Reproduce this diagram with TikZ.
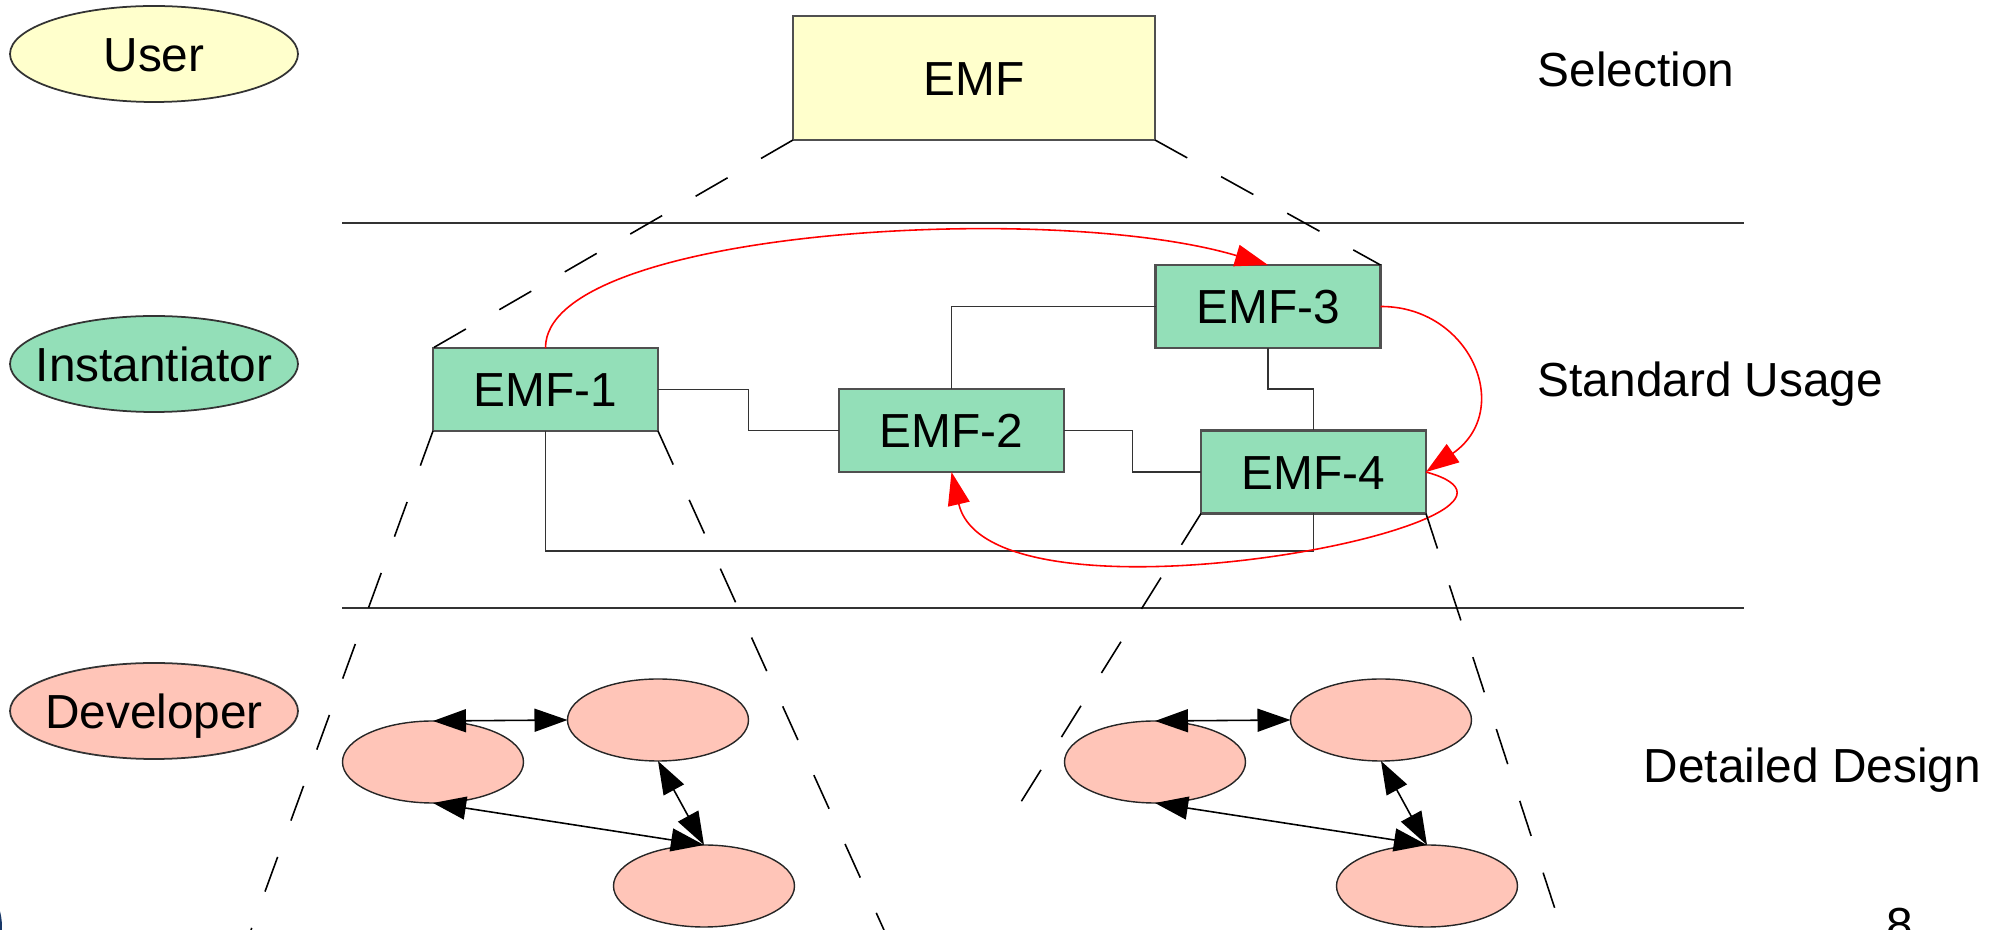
\documentclass[tikz,border=0pt]{standalone}
\usepackage{fontspec}
\setmainfont{Liberation Sans}
\usetikzlibrary{shapes.geometric, arrows.meta, calc}

\definecolor{emfyellow}{RGB}{255,255,204}
\definecolor{emfgreen}{RGB}{147,223,184}
\definecolor{emfpink}{RGB}{255,197,184}
\definecolor{framegray}{RGB}{80,80,80}
\definecolor{logoblue}{RGB}{24,56,104}

\tikzset{
    txt/.style={font=\fontsize{13.6}{16}\selectfont},
    roletext/.style={txt, inner sep=0pt, text height=9.8pt, text depth=0pt},
    role/.style={ellipse, draw=black!80, line width=0.5pt,
        minimum width=2.88cm, minimum height=0.96cm, inner sep=0pt, outer sep=0pt},
    emfbox/.style={txt, rectangle, draw=framegray, line width=0.6pt, fill=emfgreen,
        minimum width=2.25cm, minimum height=0.83cm, inner sep=0pt, outer sep=0pt,
        text height=9.8pt, text depth=0pt},
    part/.style={ellipse, draw=black!85, line width=0.4pt, fill=emfpink,
        minimum width=1.81cm, minimum height=0.82cm, inner sep=0pt, outer sep=0pt},
    layertext/.style={txt, anchor=base west, inner sep=0pt},
    divider/.style={draw=black!80, line width=0.5pt},
    wire/.style={draw=black!80, line width=0.45pt},
    proj/.style={draw=black, line width=0.45pt, dash pattern=on 10.5pt off 11pt},
    flow/.style={red, line width=0.45pt, -{Triangle[length=0.33cm, width=0.22cm]}},
    dep/.style={black, line width=0.45pt,
        {Triangle[length=0.33cm, width=0.23cm]}-{Triangle[length=0.33cm, width=0.23cm]}}
}

\begin{document}
\begin{tikzpicture}
    \clip (0,0) rectangle (19.96,-9.30);

    % Roles on the left
    \node [role, fill=emfyellow, label={[roletext]center:User}] (user) at (1.54,-0.54) {};
    \node [role, fill=emfgreen, label={[roletext]center:Instantiator}] (inst) at (1.54,-3.64) {};
    \node [role, fill=emfpink, label={[roletext]center:Developer}] (dev) at (1.54,-7.11) {};

    % Layer names on the right
    \node [layertext] (sel) at (15.37,-0.87) {Selection};
    \node [layertext] (std) at (15.37,-3.97) {Standard Usage};
    \node [layertext] (det) at (16.43,-7.83) {Detailed Design};
    \node [txt, anchor=base, inner sep=0pt] (page) at (18.995,-9.42) {8};
    \fill [logoblue] (-0.60,-9.27) circle (0.62);

    \draw [divider] (3.42,-2.23) -- (17.44,-2.23);
    \draw [divider] (3.42,-6.08) -- (17.44,-6.08);

    % EMF and its instances
    \node [emfbox, fill=emfyellow, minimum width=3.62cm, minimum height=1.24cm] (emf) at (9.74,-0.78) {EMF};
    \node [emfbox] (emf1) at (5.455,-3.895) {EMF-1};
    \node [emfbox] (emf2) at (9.515,-4.305) {EMF-2};
    \node [emfbox] (emf3) at (12.68,-3.065) {EMF-3};
    \node [emfbox] (emf4) at (13.135,-4.72) {EMF-4};

    \draw [wire] (emf1.east) -| ($(emf1.east)!0.5!(emf2.west)$) |- (emf2.west);
    \draw [wire] (emf2.north) |- (emf3.west);
    \draw [wire] (emf3.south) |- ($(emf3.south)!0.5!(emf4.north)$) -| (emf4.north);
    \draw [wire] (emf2.east) -| ($(emf2.east)!0.5!(emf4.west)$) |- (emf4.west);
    \draw [wire] (emf1.south) -- ++(0,-1.2) -| (emf4.south);

    \draw [flow] (emf1.north) .. controls (5.45,-2.30) and (10.50,-2.00) .. (emf3.north);
    \draw [flow] (emf3.east) .. controls (14.70,-3.06) and (15.15,-4.10) .. (emf4.east);
    \draw [flow] (emf4.east) .. controls (16.00,-5.20) and (9.90,-6.40) .. (emf2.south);

    % Zoom lines
    \draw [proj] (emf.south west) -- (emf1.north west);
    \draw [proj] (emf.south east) -- (emf3.north east);
    \draw [proj] (emf1.south west) -- ++(-1.82,-4.99);
    \draw [proj] (emf1.south east) -- ++(2.26,-4.99);
    \draw [proj] (emf4.south west) -- ++(-1.81,-2.90);
    \draw [proj] (emf4.south east) -- ++(1.36,-4.17);

    % Detailed parts under EMF-1
    \node [part] (la) at (4.33,-7.62) {};
    \node [part] (lb) at (6.58,-7.20) {};
    \node [part] (lc) at (7.04,-8.86) {};
    \draw [dep] (la.north) -- (lb.west);
    \draw [dep] (la.south) -- (lc.north);
    \draw [dep] (lb.south) -- (lc.north);

    % Detailed parts under EMF-4
    \node [part] (ra) at (11.55,-7.62) {};
    \node [part] (rb) at (13.81,-7.20) {};
    \node [part] (rc) at (14.27,-8.86) {};
    \draw [dep] (ra.north) -- (rb.west);
    \draw [dep] (ra.south) -- (rc.north);
    \draw [dep] (rb.south) -- (rc.north);
\end{tikzpicture}
\end{document}
